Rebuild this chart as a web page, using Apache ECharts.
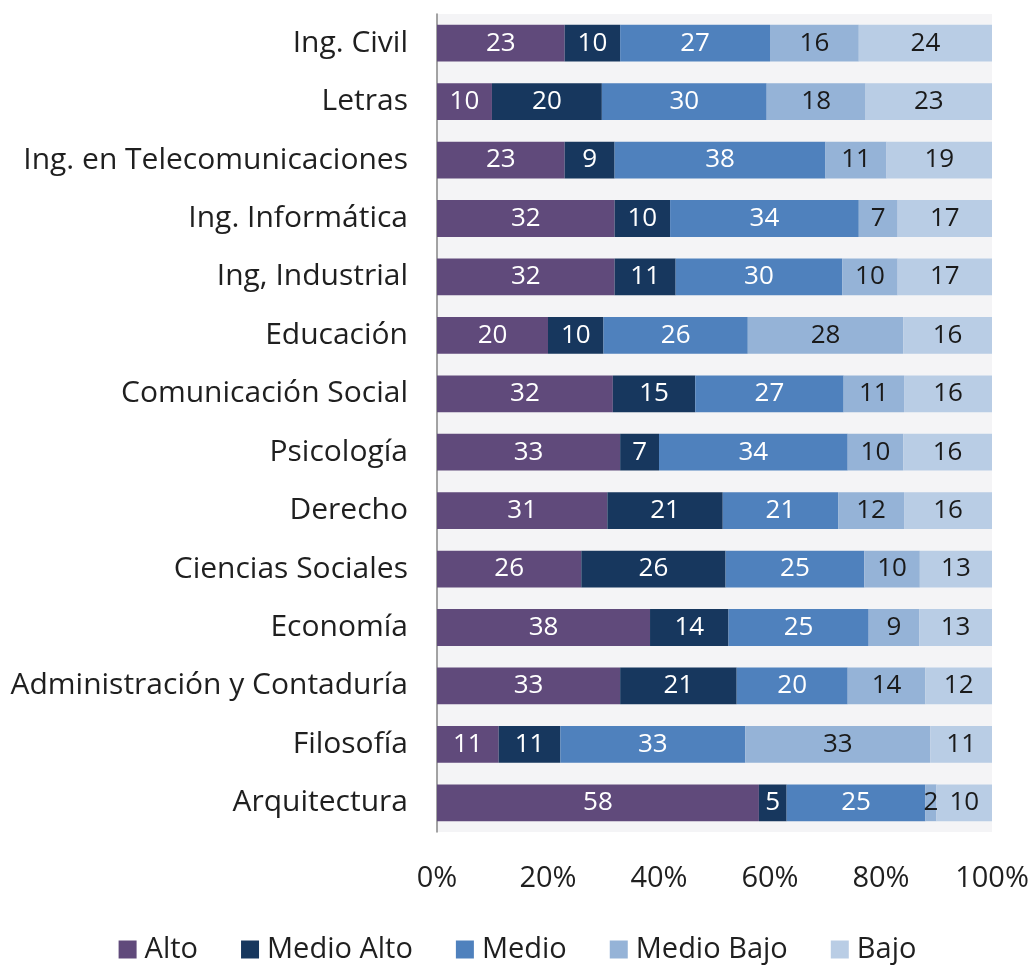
<!DOCTYPE html>
<html>
<head>
<meta charset="utf-8">
<script src="https://cdn.jsdelivr.net/npm/echarts@6/dist/echarts.min.js"></script>
<style>
  html, body { margin: 0; padding: 0; background: #ffffff; }
  #chart { width: 1035px; height: 965px; }
</style>
</head>
<body>
<div id="chart"></div>
<script>
// Careers, listed top to bottom
const categories = [
  'Ing. Civil', 'Letras', 'Ing. en Telecomunicaciones', 'Ing. Informática',
  'Ing, Industrial', 'Educación', 'Comunicación Social', 'Psicología',
  'Derecho', 'Ciencias Sociales', 'Economía', 'Administración y Contaduría',
  'Filosofía', 'Arquitectura'
];
const seriesNames = ['Alto', 'Medio Alto', 'Medio', 'Medio Bajo', 'Bajo'];
// Percentages per level, same order as categories
const alto       = [23, 10, 23, 32, 32, 20, 32, 33, 31, 26, 38, 33, 11, 58];
const medioAlto  = [10, 20,  9, 10, 11, 10, 15,  7, 21, 26, 14, 21, 11,  5];
const medio      = [27, 30, 38, 34, 30, 26, 27, 34, 21, 25, 25, 20, 33, 25];
const medioBajo  = [16, 18, 11,  7, 10, 28, 11, 10, 12, 10,  9, 14, 33,  2];
const bajo       = [24, 23, 19, 17, 17, 16, 16, 16, 16, 13, 13, 12, 11, 10];
const tickLabels = ['0%', '20%', '40%', '60%', '80%', '100%'];

const values = [alto, medioAlto, medio, medioBajo, bajo];
const colors = ['#604a7b', '#17375e', '#4f81bd', '#95b3d7', '#b9cde5'];
const labelColors = ['#ffffff', '#ffffff', '#ffffff', '#1a1a1a', '#1a1a1a'];

// Row totals: each bar is drawn as a share of its own 100% stack
const totals = categories.map((_, i) => values.reduce((s, arr) => s + arr[i], 0));

const FONT = '"Open Sans", "Noto Sans", sans-serif';

const series = seriesNames.map((name, k) => ({
  name,
  type: 'bar',
  stack: 'total',
  barCategoryGap: '37%',
  itemStyle: { color: colors[k] },
  label: {
    show: true,
    position: 'inside',
    color: labelColors[k],
    fontFamily: FONT,
    fontSize: 26,
    formatter: p => String(values[k][p.dataIndex])
  },
  data: values[k].map((v, i) => v * 100 / totals[i])
}));

const chart = echarts.init(document.getElementById('chart'), null, { renderer: 'canvas' });
chart.setOption({
  animation: false,
  backgroundColor: '#ffffff',
  grid: {
    left: 437, right: 43, top: 14, bottom: 133,
    show: true, backgroundColor: '#f4f4f6', borderWidth: 0
  },
  legend: {
    top: 930,
    left: 'center',
    itemWidth: 18, itemHeight: 18,
    itemGap: 43,
    icon: 'rect',
    textStyle: { fontFamily: FONT, fontSize: 29, color: '#1f1f1f', padding: [0, 0, 0, 3] },
    data: seriesNames
  },
  xAxis: {
    type: 'value',
    min: 0, max: 100, interval: 20,
    axisLine: { show: false },
    axisTick: { show: false },
    splitLine: { show: false },
    axisLabel: {
      fontFamily: FONT, fontSize: 29, color: '#1f1f1f', margin: 32,
      formatter: v => tickLabels[Math.round(v / 20)]
    }
  },
  yAxis: {
    type: 'category',
    data: categories,
    inverse: true,
    axisLine: { show: true, lineStyle: { color: '#868686', width: 1.5 } },
    axisTick: { show: false },
    axisLabel: { fontFamily: FONT, fontSize: 30, color: '#1f1f1f', margin: 29 }
  },
  series
});
</script>
</body>
</html>
